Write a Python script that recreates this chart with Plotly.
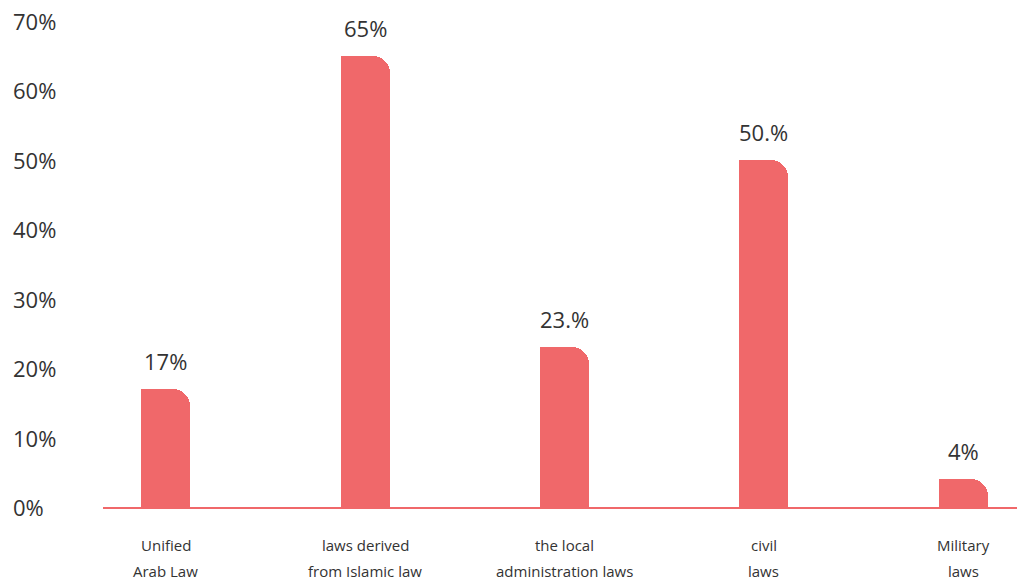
import plotly.graph_objects as go

categories_line1 = ["Unified", "laws derived", "the local", "civil", "Military"]
categories_line2 = ["Arab Law", "from Islamic law", "administration laws", "laws", "laws"]
values = [17, 65, 23, 50, 4]
value_labels = ["17%", "65%", "23.%", "50.%", "4%"]
y_ticks = [0, 10, 20, 30, 40, 50, 60, 70]
y_tick_labels = ["0%", "10%", "20%", "30%", "40%", "50%", "60%", "70%"]

BAR = "#F0686A"
TXT = "#333333"
FONT = "Open Sans"

x = list(range(len(values)))
bw = 0.246

fig = go.Figure()
# rounded bar (both top corners)
fig.add_trace(go.Bar(x=x, y=values, width=bw, offset=-bw / 2,
                     marker=dict(color=BAR, line=dict(width=0), cornerradius=17),
                     hoverinfo="skip", showlegend=False))
# square left half to keep only the top-right corner rounded
fig.add_trace(go.Bar(x=x, y=values, width=bw * 0.5, offset=-bw / 2,
                     marker=dict(color=BAR, line=dict(width=0)),
                     hoverinfo="skip", showlegend=False))

annotations = []
for xi, v, lab in zip(x, values, value_labels):
    annotations.append(dict(x=xi, y=v, text=lab, showarrow=False, xref="x", yref="y",
                            yanchor="bottom", yshift=11,
                            font=dict(family=FONT, size=22, color=TXT)))
for xi, l1, l2 in zip(x, categories_line1, categories_line2):
    annotations.append(dict(x=xi, y=0, text=l1, showarrow=False, xref="x", yref="y",
                            yanchor="middle", yshift=-38,
                            font=dict(family=FONT, size=15, color=TXT)))
    annotations.append(dict(x=xi, y=0, text=l2, showarrow=False, xref="x", yref="y",
                            yanchor="middle", yshift=-64,
                            font=dict(family=FONT, size=15, color=TXT)))
for t, lab in zip(y_ticks, y_tick_labels):
    annotations.append(dict(x=0, y=t, text=lab, showarrow=False, xref="paper", yref="y",
                            xanchor="left", yanchor="middle", xshift=-92,
                            font=dict(family=FONT, size=22, color=TXT)))

fig.update_layout(
    width=1017, height=583,
    margin=dict(l=103, r=0, t=21, b=76),
    paper_bgcolor="white", plot_bgcolor="white",
    barmode="overlay", bargap=0,
    xaxis=dict(range=[-0.316, 4.27], showgrid=False, zeroline=False,
               showticklabels=False, ticks="",
               showline=True, linecolor=BAR, linewidth=2),
    yaxis=dict(range=[0, 70], showgrid=False, zeroline=False,
               showticklabels=False, ticks="", showline=False),
    annotations=annotations,
)

fig.write_html("out.html", config={"displayModeBar": False},
               post_script="document.body.style.margin='0';document.body.style.overflow='hidden';")
